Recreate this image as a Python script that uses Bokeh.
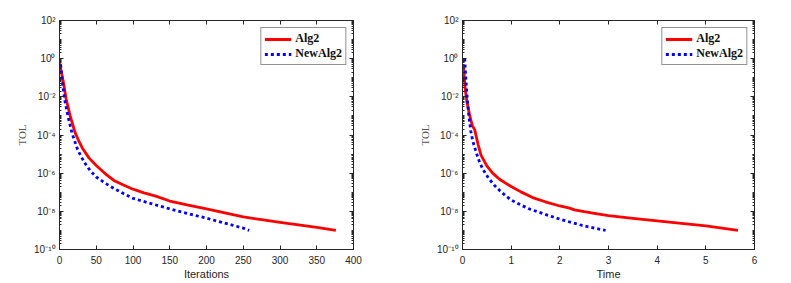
from bokeh.plotting import figure
from bokeh.layouts import row
from bokeh.models import FixedTicker, LinearAxis, LogAxis, Legend, LegendItem
from bokeh.embed import file_html
from bokeh.resources import INLINE

# ---- data; TOL given as log10 exponents ----
iter_alg2 = [0, 2, 5.5, 9, 14.5, 21, 26, 31, 40, 50, 62, 74, 87, 100, 115, 131, 150, 175,
             200, 225, 250, 275, 300, 325, 350, 376]
log_tol_iter_alg2 = [-0.24, -0.6, -1.28, -2.1, -3.0, -3.85, -4.3, -4.68, -5.2, -5.6, -6.02,
                     -6.38, -6.62, -6.84, -7.03, -7.2, -7.46, -7.68, -7.87, -8.08, -8.29,
                     -8.44, -8.58, -8.71, -8.84, -9.0]
iter_new = [0, 2, 4, 7, 11.4, 17, 24, 29, 35, 42, 50, 62, 74, 87, 100, 125, 150, 175, 200,
            225, 250, 258]
log_tol_iter_new = [0.0, -0.45, -1.28, -2.14, -3.0, -3.9, -4.7, -5.1, -5.5, -5.88, -6.2,
                    -6.52, -6.8, -7.07, -7.32, -7.6, -7.87, -8.12, -8.36, -8.62, -8.88, -9.0]

time_alg2 = [0.02, 0.04, 0.06, 0.09, 0.15, 0.2, 0.25, 0.28, 0.32, 0.38, 0.5, 0.62, 0.76, 1.0,
             1.2, 1.44, 1.7, 2.0, 2.2, 2.3, 2.5, 2.74, 3.0, 3.5, 4.0, 4.5, 5.0, 5.66]
log_tol_time_alg2 = [-0.33, -1.1, -1.7, -2.25, -3.0, -3.5, -3.72, -4.05, -4.5, -5.05, -5.62,
                     -6.0, -6.32, -6.7, -6.98, -7.28, -7.5, -7.72, -7.83, -7.92, -8.02, -8.12,
                     -8.22, -8.37, -8.5, -8.63, -8.76, -9.0]
time_new = [0.045, 0.075, 0.1, 0.13, 0.17, 0.21, 0.25, 0.3, 0.35, 0.42, 0.53, 0.65, 0.76,
            0.88, 1.0, 1.2, 1.37, 1.7, 2.0, 2.46, 2.94]
log_tol_time_new = [0.0, -1.28, -2.14, -3.0, -3.8, -4.3, -4.65, -5.05, -5.42, -5.8, -6.25,
                    -6.62, -6.9, -7.17, -7.41, -7.67, -7.87, -8.16, -8.41, -8.74, -9.0]

y_exps = [-10, -8, -6, -4, -2, 0, 2]
y_labels = ["10⁻¹⁰", "10⁻⁸", "10⁻⁶", "10⁻⁴", "10⁻²", "10⁰", "10²"]
x_ticks_iter = [0, 50, 100, 150, 200, 250, 300, 350, 400]
x_ticks_time = [0, 1, 2, 3, 4, 5, 6]
series_names = ["Alg2", "NewAlg2"]

TICK_COLOR = "#262626"
y_major = [10.0 ** e for e in y_exps]
y_minor = [k * 10.0 ** e for e in range(-10, 2) for k in range(1, 10)]


def to_tol(exps):
    return [10.0 ** e for e in exps]


def style_axis(ax, show_labels=True):
    ax.axis_line_color = TICK_COLOR
    ax.major_tick_line_color = TICK_COLOR
    ax.minor_tick_line_color = TICK_COLOR
    ax.major_tick_in = 4
    ax.major_tick_out = 0
    ax.minor_tick_in = 2
    ax.minor_tick_out = 0
    ax.major_label_text_font = "Liberation Sans"
    ax.major_label_text_font_size = "10px"
    ax.major_label_text_color = TICK_COLOR
    ax.major_label_standoff = 4
    if not show_labels:
        ax.major_label_text_font_size = "1px"
        ax.major_label_text_alpha = 0
        ax.major_label_standoff = 0


def make_plot(xa, ya, xb, yb, xmax, xticks, xlabel, width, bl, br):
    p = figure(width=width, height=282, x_range=(0, xmax), y_range=(1e-10, 1e2),
               y_axis_type="log", output_backend="svg", toolbar_location=None,
               min_border_left=bl, min_border_right=br, min_border_top=20,
               min_border_bottom=30)
    p.xgrid.visible = False
    p.ygrid.visible = False
    p.outline_line_color = TICK_COLOR
    p.background_fill_color = "white"
    p.border_fill_color = "white"

    p.yaxis.ticker = FixedTicker(ticks=y_major, minor_ticks=y_minor)
    p.yaxis.major_label_overrides = {v: l for v, l in zip(y_major, y_labels)}
    p.yaxis.axis_label = "TOL"
    p.yaxis.axis_label_text_font = "Liberation Serif"
    p.yaxis.axis_label_text_font_style = "normal"
    p.yaxis.axis_label_text_font_size = "11px"
    p.yaxis.axis_label_text_color = "#555555"
    p.yaxis.axis_label_standoff = 3
    style_axis(p.yaxis[0])

    p.xaxis.ticker = FixedTicker(ticks=xticks, minor_ticks=[])
    p.xaxis.axis_label = xlabel
    p.xaxis.axis_label_text_font = "Liberation Sans"
    p.xaxis.axis_label_text_font_style = "normal"
    p.xaxis.axis_label_text_font_size = "11px"
    p.xaxis.axis_label_text_color = TICK_COLOR
    p.xaxis.axis_label_standoff = 1
    style_axis(p.xaxis[0])
    p.xaxis.major_label_standoff = 6

    top = LinearAxis(ticker=FixedTicker(ticks=xticks, minor_ticks=[]))
    style_axis(top, show_labels=False)
    p.add_layout(top, "above")
    right = LogAxis(ticker=FixedTicker(ticks=y_major, minor_ticks=y_minor))
    style_axis(right, show_labels=False)
    p.add_layout(right, "right")

    r1 = p.line(xa, to_tol(ya), line_color="#ff0000", line_width=2.8, line_join="round")
    r2 = p.line(xb, to_tol(yb), line_color="#0000ff", line_width=2.8, line_dash="3 3")

    leg = Legend(items=[LegendItem(label=series_names[0], renderers=[r1]),
                        LegendItem(label=series_names[1], renderers=[r2])],
                 location="top_right")
    leg.label_text_font = "Liberation Serif"
    leg.label_text_font_style = "bold"
    leg.label_text_font_size = "12px"
    leg.label_text_color = "#111111"
    leg.label_height = 14
    leg.glyph_height = 14
    leg.glyph_width = 27
    leg.spacing = 0
    leg.padding = 3
    leg.margin = 7
    leg.label_standoff = 4
    leg.border_line_color = TICK_COLOR
    leg.border_line_width = 1
    leg.background_fill_alpha = 1
    p.add_layout(leg, "center")
    return p


p1 = make_plot(iter_alg2, log_tol_iter_alg2, iter_new, log_tol_iter_new, 400, x_ticks_iter,
               "Iterations", 400, 59, 47)
p2 = make_plot(time_alg2, log_tol_time_alg2, time_new, log_tol_time_new, 6, x_ticks_time,
               "Time", 391, 62, 37)

lay = row(p1, p2)
open("out.html", "w").write(file_html(lay, INLINE))
